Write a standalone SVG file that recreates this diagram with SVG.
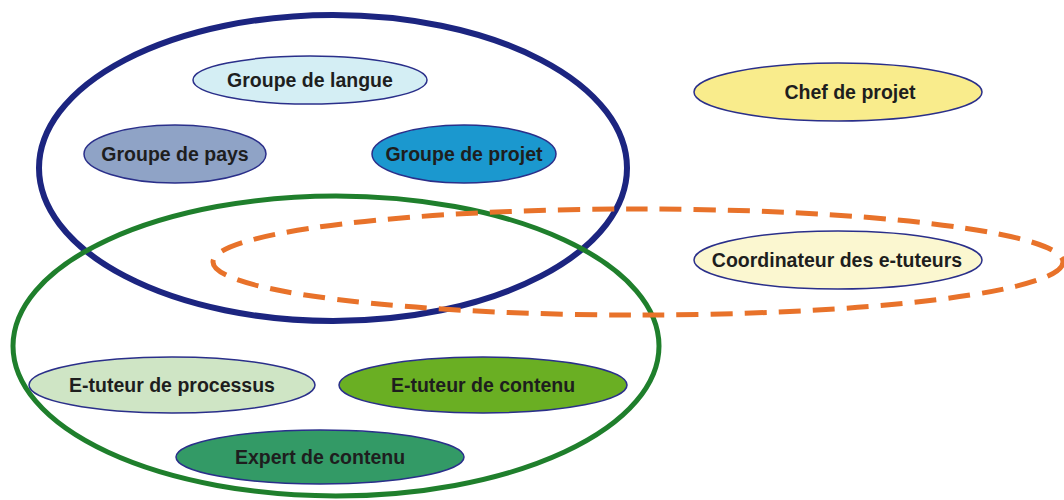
<svg xmlns="http://www.w3.org/2000/svg" width="1064" height="500" viewBox="0 0 1064 500">
<style>
.node{stroke:#2a2f8a;stroke-width:1.5}
.lbl{font-family:"Liberation Sans",Arial,sans-serif;font-size:19.5px;font-weight:bold;fill:#1e1e1e;text-anchor:middle;dominant-baseline:central}
.grp{fill:none}
</style>
<rect width="1064" height="500" fill="#fff"/>
<g id="groups">
<ellipse id="grp-blue" class="grp" cx="333" cy="168" rx="294" ry="153" stroke="#1c2580" stroke-width="6"/>
<ellipse id="grp-green" class="grp" cx="336" cy="346" rx="323" ry="150" stroke="#1f7f2c" stroke-width="5"/>
<ellipse id="grp-orange" class="grp" cx="638" cy="262" rx="425" ry="53" stroke="#e8722a" stroke-width="5" stroke-dasharray="22 12"/>
</g>
<g id="n-langue"><ellipse class="node" cx="310" cy="80" rx="117" ry="24" fill="#d4eef4"/><text class="lbl" x="310" y="80">Groupe de langue</text></g>
<g id="n-pays"><ellipse class="node" cx="175" cy="154" rx="91" ry="29" fill="#8fa3c6"/><text class="lbl" x="175" y="154">Groupe de pays</text></g>
<g id="n-projet"><ellipse class="node" cx="464" cy="154" rx="92" ry="29" fill="#1b98cf"/><text class="lbl" x="464" y="154">Groupe de projet</text></g>
<g id="n-chef"><ellipse class="node" cx="838" cy="92" rx="144" ry="29" fill="#f9ec8c"/><text class="lbl" x="850" y="92">Chef de projet</text></g>
<g id="n-coord"><ellipse class="node" cx="838" cy="260" rx="144" ry="29" fill="#fbf7d0"/><text class="lbl" x="837" y="260">Coordinateur des e-tuteurs</text></g>
<g id="n-processus"><ellipse class="node" cx="172" cy="385" rx="143" ry="28" fill="#cfe5c5"/><text class="lbl" x="172" y="385">E-tuteur de processus</text></g>
<g id="n-contenu"><ellipse class="node" cx="483" cy="385" rx="144" ry="28" fill="#6aaf23"/><text class="lbl" x="483" y="385">E-tuteur de contenu</text></g>
<g id="n-expert"><ellipse class="node" cx="320" cy="457" rx="144" ry="27" fill="#339a66"/><text class="lbl" x="320" y="457">Expert de contenu</text></g>
<g id="connectors"></g>
</svg>
